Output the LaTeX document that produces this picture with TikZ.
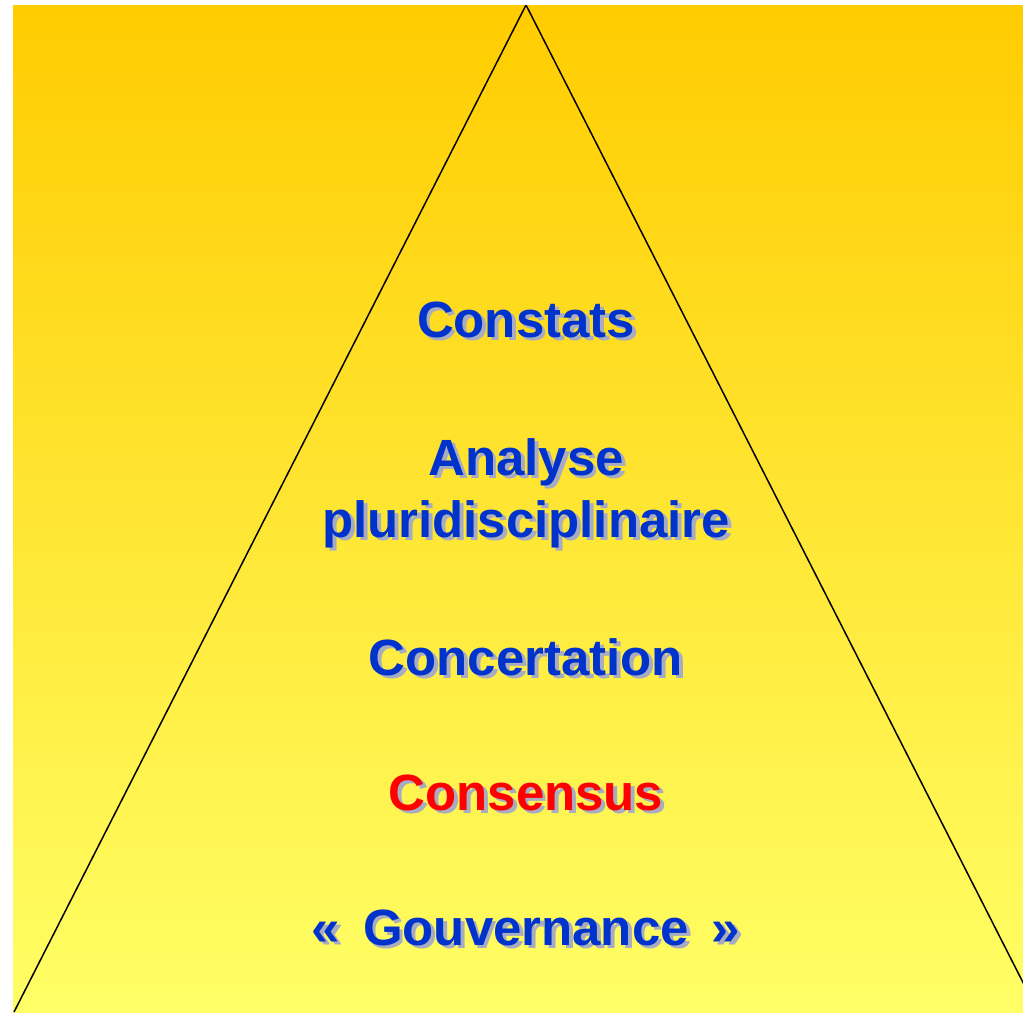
\documentclass[tikz,border=0pt]{standalone}
\usepackage{fontspec}
\setmainfont{Liberation Sans}
\usepackage{xcolor}
\definecolor{topgold}{HTML}{FFCC00}
\definecolor{botyellow}{HTML}{FFFF66}
\definecolor{lvlblue}{HTML}{0033CC}
\definecolor{lvlshade}{HTML}{A8ACC0}
\tikzset{
  lvl/.style={anchor=base,font=\fontsize{29}{34}\selectfont\bfseries,text=lvlblue,inner sep=0pt},
  lvlshadow/.style={lvl,text=lvlshade,xshift=2.2,yshift=-2.2},
}
\newcommand{\lvltext}[4]{% name, y, colour, text
  \node[lvlshadow] (#1s) at (526,#2){#4};
  \node[lvl,text=#3] (#1) at (526,#2){#4};
}
\begin{document}
\begin{tikzpicture}[x=0.02cm,y=-0.02cm]
            \useasboundingbox (0,0) rectangle (1023,1012);
            \shade[top color=topgold,bottom color=botyellow] (13,5) rectangle (1023,1012);
            \begin{scope}
                \clip (13,5) rectangle (1023,1012);
                \draw[black,line width=0.85pt] (14,1012) -- (526,5) -- (1038,1012);
            \end{scope}

            \lvltext{constats}{337}{lvlblue}{Constats}
            \lvltext{analyse}{475}{lvlblue}{Analyse}
            \lvltext{pluri}{537}{lvlblue}{pluridisciplinaire}
            \lvltext{concert}{675}{lvlblue}{Concertation}
            \lvltext{consens}{810}{red}{Consensus}
            \lvltext{gouv}{945}{lvlblue}{«\hspace{0.45em}Gouvernance\hspace{0.45em}»}
        \end{tikzpicture}
\end{document}
